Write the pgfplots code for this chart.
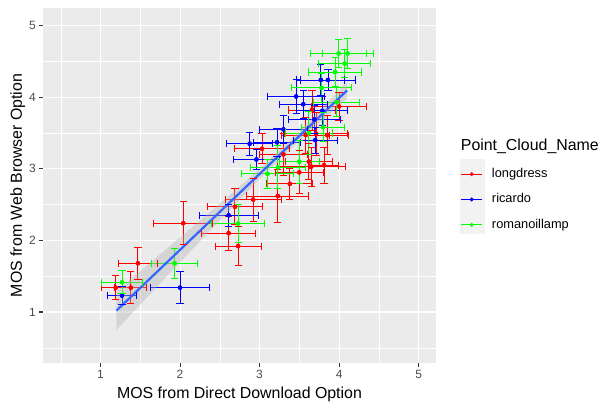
\documentclass[border=0pt]{standalone}
\usepackage{pgfplots}
\pgfplotsset{compat=1.18}
\usepackage{pgfplotstable}
\usepackage{fontspec}
\setmainfont{Liberation Sans}
\definecolor{panel}{HTML}{EBEBEB}
\definecolor{ticklab}{HTML}{4D4D4D}
\definecolor{tickcol}{HTML}{333333}
\definecolor{fitblue}{HTML}{3366FF}
\definecolor{gred}{HTML}{FF0000}
\definecolor{gblue}{HTML}{0000FF}
\definecolor{ggreen}{HTML}{00FF00}
\definecolor{legkey}{HTML}{F2F2F2}

% each point: two rows (s = -1, +1 give the two ends of its bars), then a break row
\pgfplotstableread{
x y ex ey s
1.19 1.34 0.18 0.17 -1
1.19 1.34 0.18 0.17 1
nan nan nan nan nan
1.38 1.34 0.20 0.22 -1
1.38 1.34 0.20 0.22 1
nan nan nan nan nan
1.47 1.68 0.25 0.22 -1
1.47 1.68 0.25 0.22 1
nan nan nan nan nan
2.04 2.24 0.37 0.30 -1
2.04 2.24 0.37 0.30 1
nan nan nan nan nan
2.61 2.10 0.34 0.24 -1
2.61 2.10 0.34 0.24 1
nan nan nan nan nan
2.73 1.92 0.29 0.27 -1
2.73 1.92 0.29 0.27 1
nan nan nan nan nan
2.69 2.47 0.34 0.25 -1
2.69 2.47 0.34 0.25 1
nan nan nan nan nan
2.92 2.57 0.35 0.30 -1
2.92 2.57 0.35 0.30 1
nan nan nan nan nan
3.23 2.62 0.39 0.37 -1
3.23 2.62 0.39 0.37 1
nan nan nan nan nan
3.38 2.79 0.29 0.22 -1
3.38 2.79 0.29 0.22 1
nan nan nan nan nan
3.03 3.28 0.35 0.21 -1
3.03 3.28 0.35 0.21 1
nan nan nan nan nan
3.65 3.03 0.43 0.27 -1
3.65 3.03 0.43 0.27 1
nan nan nan nan nan
3.62 3.10 0.30 0.25 -1
3.62 3.10 0.30 0.25 1
nan nan nan nan nan
3.85 3.47 0.27 0.27 -1
3.85 3.47 0.27 0.27 1
nan nan nan nan nan
3.71 3.49 0.40 0.30 -1
3.71 3.49 0.40 0.30 1
nan nan nan nan nan
3.58 3.47 0.30 0.25 -1
3.58 3.47 0.30 0.25 1
nan nan nan nan nan
3.81 3.05 0.18 0.25 -1
3.81 3.05 0.18 0.25 1
nan nan nan nan nan
3.50 2.95 0.30 0.30 -1
3.50 2.95 0.30 0.30 1
nan nan nan nan nan
3.66 3.82 0.30 0.28 -1
3.66 3.82 0.30 0.28 1
nan nan nan nan nan
4.00 3.87 0.35 0.20 -1
4.00 3.87 0.35 0.20 1
nan nan nan nan nan
3.30 3.20 0.30 0.30 -1
3.30 3.20 0.30 0.30 1
nan nan nan nan nan
}\longdress

\pgfplotstableread{
x y ex ey s
1.27 1.23 0.18 0.12 -1
1.27 1.23 0.18 0.12 1
nan nan nan nan nan
2.00 1.34 0.37 0.22 -1
2.00 1.34 0.37 0.22 1
nan nan nan nan nan
2.61 2.35 0.37 0.15 -1
2.61 2.35 0.37 0.15 1
nan nan nan nan nan
2.875 3.35 0.29 0.16 -1
2.875 3.35 0.29 0.16 1
nan nan nan nan nan
2.96 3.13 0.29 0.14 -1
2.96 3.13 0.29 0.14 1
nan nan nan nan nan
3.22 3.37 0.30 0.20 -1
3.22 3.37 0.30 0.20 1
nan nan nan nan nan
3.46 4.01 0.36 0.24 -1
3.46 4.01 0.36 0.24 1
nan nan nan nan nan
3.77 4.24 0.30 0.21 -1
3.77 4.24 0.30 0.21 1
nan nan nan nan nan
3.86 4.24 0.35 0.15 -1
3.86 4.24 0.35 0.15 1
nan nan nan nan nan
3.79 3.81 0.32 0.20 -1
3.79 3.81 0.32 0.20 1
nan nan nan nan nan
3.69 3.69 0.33 0.20 -1
3.69 3.69 0.33 0.20 1
nan nan nan nan nan
3.30 3.55 0.30 0.20 -1
3.30 3.55 0.30 0.20 1
nan nan nan nan nan
3.55 3.90 0.30 0.20 -1
3.55 3.90 0.30 0.20 1
nan nan nan nan nan
3.70 3.40 0.28 0.18 -1
3.70 3.40 0.28 0.18 1
nan nan nan nan nan
}\ricardo

\pgfplotstableread{
x y ex ey s
1.27 1.415 0.26 0.16 -1
1.27 1.415 0.26 0.16 1
nan nan nan nan nan
1.93 1.68 0.29 0.21 -1
1.93 1.68 0.29 0.21 1
nan nan nan nan nan
2.73 2.235 0.33 0.27 -1
2.73 2.235 0.33 0.27 1
nan nan nan nan nan
3.23 3.02 0.35 0.30 -1
3.23 3.02 0.35 0.30 1
nan nan nan nan nan
3.10 2.93 0.33 0.20 -1
3.10 2.93 0.33 0.20 1
nan nan nan nan nan
3.97 3.93 0.29 0.20 -1
3.97 3.93 0.29 0.20 1
nan nan nan nan nan
3.80 3.58 0.27 0.20 -1
3.80 3.58 0.27 0.20 1
nan nan nan nan nan
3.78 4.13 0.38 0.20 -1
3.78 4.13 0.38 0.20 1
nan nan nan nan nan
3.995 4.61 0.35 0.19 -1
3.995 4.61 0.35 0.19 1
nan nan nan nan nan
4.107 4.61 0.32 0.21 -1
4.107 4.61 0.32 0.21 1
nan nan nan nan nan
4.07 4.47 0.33 0.20 -1
4.07 4.47 0.33 0.20 1
nan nan nan nan nan
3.95 4.35 0.33 0.20 -1
3.95 4.35 0.33 0.20 1
nan nan nan nan nan
3.62 3.50 0.30 0.30 -1
3.62 3.50 0.30 0.30 1
nan nan nan nan nan
3.50 3.10 0.25 0.30 -1
3.50 3.10 0.25 0.30 1
nan nan nan nan nan
}\romanoillamp

\pgfplotsset{
  legkeycode/.style={
    legend image code/.code={
      \draw[#1, line width=1pt] (1.7pt,0pt) -- (22.7pt,0pt);
      \fill[#1] (12.2pt,0pt) circle (1.8pt);
    },
  },
  barline/.style={forget plot, mark=none, color=#1, line width=0.9pt},
  xcap/.style={forget plot, only marks, mark=|, mark size=3.6pt, color=#1,
    mark options={color=#1, line width=0.9pt}},
  ycap/.style={forget plot, only marks, mark=-, mark size=3.6pt, color=#1,
    mark options={color=#1, line width=0.9pt}},
  pts/.style={only marks, mark=*, mark size=2pt, color=#1,
    mark options={draw=none, fill=#1}, legkeycode=#1},
}

\begin{document}
\begin{tikzpicture}[x=1pt,y=1pt]
\useasboundingbox (0,0) rectangle (600,403);
\fill[legkey] (460,168.7) rectangle (485,243.7);
\begin{axis}[
  at={(43pt,40pt)}, anchor=south west, scale only axis,
  width=393pt, height=355pt,
  xmin=0.276, xmax=5.219, ymin=0.288, ymax=5.245,
  unbounded coords=jump,
  axis background/.style={fill=panel},
  axis line style={draw=none},
  xtick={1,2,3,4,5}, ytick={1,2,3,4,5},
  minor xtick={0.5,1.5,2.5,3.5,4.5}, minor ytick={0.5,1.5,2.5,3.5,4.5},
  grid=both,
  major grid style={white, line width=1.07pt},
  minor grid style={white, line width=0.53pt},
  xtick pos=bottom, ytick pos=left,
  tick align=outside, major tick length=3.7pt, minor tick length=0pt,
  tick style={color=tickcol, line width=1.07pt},
  tick label style={font=\fontsize{12}{14}\selectfont, color=ticklab},
  /pgf/number format/assume math mode=true,
  xlabel={MOS from Direct Download Option},
  ylabel={MOS from Web Browser Option},
  label style={font=\fontsize{15.9}{18}\selectfont},
  xlabel style={at={([yshift=-36pt]axis description cs:0.5,0)}, anchor=base},
  ylabel style={at={([xshift=-21pt]axis description cs:0,0.5)}, anchor=base},
  legend style={at={(1.0628,0.5492)}, anchor=north west, draw=none, fill=none,
    inner sep=0pt, outer sep=0pt, row sep=13pt, column sep=9.3pt,
    nodes={inner sep=0pt, text height=9.5pt, text depth=2.8pt, font=\fontsize{12.8}{15}\selectfont}},
  legend cell align=left,
]
% longdress
\addplot[barline=gred] table[x expr=\thisrow{x}+\thisrow{s}*\thisrow{ex}, y=y] {\longdress};
\addplot[barline=gred] table[x=x, y expr=\thisrow{y}+\thisrow{s}*\thisrow{ey}] {\longdress};
\addplot[xcap=gred] table[x expr=\thisrow{x}+\thisrow{s}*\thisrow{ex}, y=y] {\longdress};
\addplot[ycap=gred] table[x=x, y expr=\thisrow{y}+\thisrow{s}*\thisrow{ey}] {\longdress};
\addplot[pts=gred] table[x=x, y=y] {\longdress};
\addlegendentry{longdress}
% ricardo
\addplot[barline=gblue] table[x expr=\thisrow{x}+\thisrow{s}*\thisrow{ex}, y=y] {\ricardo};
\addplot[barline=gblue] table[x=x, y expr=\thisrow{y}+\thisrow{s}*\thisrow{ey}] {\ricardo};
\addplot[xcap=gblue] table[x expr=\thisrow{x}+\thisrow{s}*\thisrow{ex}, y=y] {\ricardo};
\addplot[ycap=gblue] table[x=x, y expr=\thisrow{y}+\thisrow{s}*\thisrow{ey}] {\ricardo};
\addplot[pts=gblue] table[x=x, y=y] {\ricardo};
\addlegendentry{ricardo}
% romanoillamp
\addplot[barline=ggreen] table[x expr=\thisrow{x}+\thisrow{s}*\thisrow{ex}, y=y] {\romanoillamp};
\addplot[barline=ggreen] table[x=x, y expr=\thisrow{y}+\thisrow{s}*\thisrow{ey}] {\romanoillamp};
\addplot[xcap=ggreen] table[x expr=\thisrow{x}+\thisrow{s}*\thisrow{ex}, y=y] {\romanoillamp};
\addplot[ycap=ggreen] table[x=x, y expr=\thisrow{y}+\thisrow{s}*\thisrow{ey}] {\romanoillamp};
\addplot[pts=ggreen] table[x=x, y=y] {\romanoillamp};
\addlegendentry{romanoillamp}
% confidence band
\addplot[draw=none, fill=gray!60, fill opacity=0.4, forget plot] coordinates {
  (1.2,1.29) (1.5,1.571) (1.8,1.853) (2.1,2.136) (2.4,2.42) (2.7,2.706)
  (3.0,2.999) (3.3,3.306) (3.6,3.635) (3.9,3.978) (4.1,4.211)
  (4.1,3.977) (3.9,3.786) (3.6,3.493) (3.3,3.186) (3.0,2.857) (2.7,2.514)
  (2.4,2.164) (2.1,1.812) (1.8,1.459) (1.5,1.105) (1.2,0.75)
} -- cycle;
\addplot[fitblue, line width=2.2pt, forget plot] coordinates {(1.2,1.02) (4.1,4.094)};
\end{axis}
\node[anchor=base west, font=\fontsize{15.9}{18}\selectfont, inner sep=0pt] at (460.7,252.3) {Point\_Cloud\_Name};
\end{tikzpicture}
\end{document}
